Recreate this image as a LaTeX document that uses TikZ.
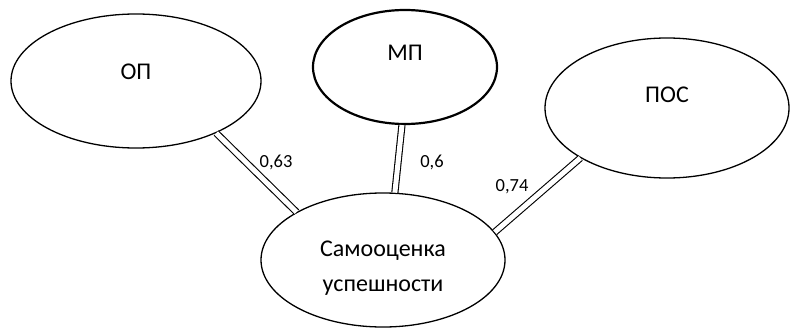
\documentclass[tikz,border=0pt]{standalone}
\usepackage{fontspec}
\setmainfont{Carlito}
\usetikzlibrary{shapes.geometric}

\begin{document}
\begin{tikzpicture}[x=1pt,y=1pt,
  oval/.style={draw, ellipse, line width=1.3pt, inner sep=0pt},
  ovaltext/.style={font=\fontsize{24}{35}\selectfont},
  link/.style={double, double distance=5pt, line width=1.1pt},
  coef/.style={font=\fontsize{18.5}{20}\selectfont, inner sep=0pt}]
\useasboundingbox (0,0) rectangle (791,-329);

% ellipses
\node[oval, minimum width=250pt, minimum height=134pt,
  label={[ovaltext, yshift=9pt]center:ОП}] (op) at (136,-81) {};
\node[oval, line width=2.2pt, minimum width=184pt, minimum height=114pt,
  label={[ovaltext, yshift=14pt]center:МП}] (mp) at (405,-67) {};
\node[oval, minimum width=244pt, minimum height=140pt,
  label={[ovaltext, yshift=13pt]center:ПОС}] (pos) at (667,-108) {};
\node[oval, minimum width=244pt, minimum height=134pt] (self) at (383,-260) {};
\node[ovaltext, align=center] (selftext) at (383,-268) {Самооценка\\успешности};

% links
\draw[link] (op.-33) -- (self.151);
\draw[link] (mp.-93) -- (self.80);
\draw[link] (pos.210) -- (self.14);

% coefficients
\node[coef] (k1) at (276,-162) {0,63};
\node[coef] (k2) at (432,-162) {0,6};
\node[coef] (k3) at (512,-187) {0,74};
\end{tikzpicture}
\end{document}
